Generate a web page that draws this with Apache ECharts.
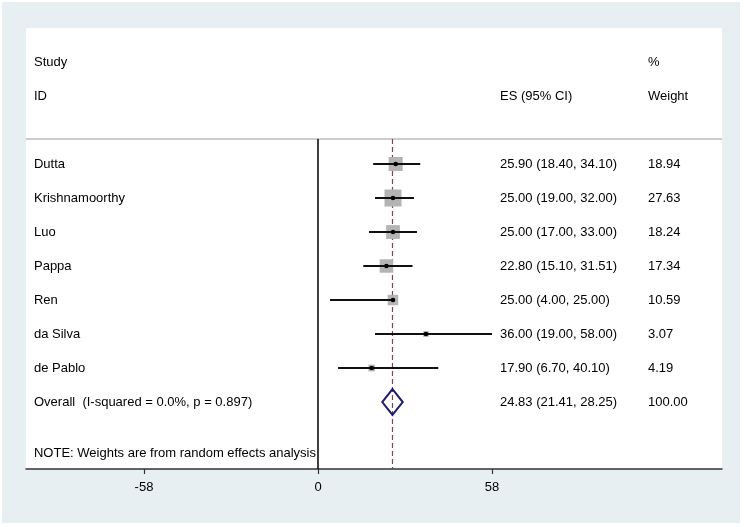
<!DOCTYPE html>
<html>
<head>
<meta charset="utf-8">
<script src="https://cdn.jsdelivr.net/npm/echarts@6/dist/echarts.min.js"></script>
<style>
html,body{margin:0;padding:0;background:#fff;}
#chart{width:744px;height:527px;}
</style>
</head>
<body>
<div id="chart"></div>
<script>
// ---- data ----
const studies = ['Dutta', 'Krishnamoorthy', 'Luo', 'Pappa', 'Ren', 'da Silva', 'de Pablo'];
const es = [25.90, 25.00, 25.00, 22.80, 25.00, 36.00, 17.90];
const ciLow = [18.40, 19.00, 17.00, 15.10, 4.00, 19.00, 6.70];
const ciHigh = [34.10, 32.00, 33.00, 31.51, 25.00, 58.00, 40.10];
const weights = [18.94, 27.63, 18.24, 17.34, 10.59, 3.07, 4.19];
const overallLabel = 'Overall  (I-squared = 0.0%, p = 0.897)';
const overallES = 24.83;
const overallLow = 21.41;
const overallHigh = 28.25;
const overallWeight = 100.00;
const xTicks = [-58, 0, 58];
const headerStudy = ['Study', 'ID'];
const headerES = ['', 'ES (95% CI)'];
const headerWeight = ['%', 'Weight'];
const noteText = 'NOTE: Weights are from random effects analysis';

// ---- layout (not data) ----
const X_MIN = -97.33, X_MAX = 134.67;
const Y_MIN = -3, Y_MAX = 9.97;
const COL_STUDY = -94.67, COL_ES = 60.67, COL_W = 110;
const HEADER_ROWS = [-2, -1];
const LINE_ROW = 0.265;
const OVERALL_ROW = studies.length + 1;
const NOTE_ROW = 9.5;
const FONT = '13px "Liberation Sans", Arial, Helvetica, sans-serif';

const f2 = v => v.toFixed(2);
const esText = es.map((v, i) => `${f2(v)} (${f2(ciLow[i])}, ${f2(ciHigh[i])})`);
const wText = weights.map(f2);

// text rows: [row, study text, es text, weight text]
const textRows = [];
HEADER_ROWS.forEach((r, i) => textRows.push([r, headerStudy[i], headerES[i], headerWeight[i]]));
studies.forEach((s, i) => textRows.push([i + 1, s, esText[i], wText[i]]));
textRows.push([OVERALL_ROW, overallLabel,
  `${f2(overallES)} (${f2(overallLow)}, ${f2(overallHigh)})`, f2(overallWeight)]);
textRows.push([NOTE_ROW, noteText, '', '']);

const studyData = studies.map((s, i) => [i + 1, es[i], ciLow[i], ciHigh[i], weights[i]]);

const chart = echarts.init(document.getElementById('chart'));
chart.setOption({
  backgroundColor: '#ffffff',
  animation: false,
  graphic: {
    elements: [{
      type: 'rect', z: -100, silent: true,
      shape: { x: 2, y: 2, width: 738, height: 521 },
      style: { fill: '#e8eff2' }
    }]
  },
  grid: {
    left: 26, right: 22, top: 28, bottom: 58,
    show: true, backgroundColor: '#ffffff', borderWidth: 0
  },
  xAxis: {
    type: 'value', min: X_MIN, max: X_MAX,
    splitLine: { show: false },
    axisLine: { show: true, onZero: false, lineStyle: { color: '#333', width: 1.5 } },
    axisTick: { show: true, customValues: xTicks, length: 5, lineStyle: { color: '#333', width: 1.2 } },
    axisLabel: { customValues: xTicks, color: '#000', fontSize: 13,
      fontFamily: '"Liberation Sans", Arial, sans-serif', margin: 12 }
  },
  yAxis: {
    type: 'value', min: Y_MIN, max: Y_MAX, inverse: true, show: false,
    splitLine: { show: false }
  },
  series: [
    { // header separator line
      type: 'line', silent: true, symbol: 'none',
      data: [[X_MIN, LINE_ROW], [X_MAX, LINE_ROW]],
      lineStyle: { color: '#cccccc', width: 2 }, z: 1
    },
    { // null line
      type: 'line', silent: true, symbol: 'none',
      data: [[0, LINE_ROW], [0, Y_MAX]],
      lineStyle: { color: '#000', width: 1.5 }, z: 2
    },
    { // overall dashed line
      type: 'line', silent: true, symbol: 'none',
      data: [[overallES, LINE_ROW], [overallES, Y_MAX]],
      lineStyle: { color: '#8a3b4f', width: 1.2, type: [5, 3] }, z: 3
    },
    { // studies
      type: 'custom', silent: true, z: 4,
      data: studyData,
      encode: { x: [1, 2, 3], y: 0 },
      renderItem: function (params, api) {
        const r = api.value(0), e = api.value(1), lo = api.value(2), hi = api.value(3), w = api.value(4);
        const pL = api.coord([lo, r]), pH = api.coord([hi, r]), pE = api.coord([e, r]);
        const s = 3.23 * Math.sqrt(w);
        return {
          type: 'group', children: [
            { type: 'rect', shape: { x: pE[0] - s / 2, y: pE[1] - s / 2, width: s, height: s }, style: { fill: '#b4b4b4' } },
            { type: 'line', shape: { x1: pL[0], y1: pL[1], x2: pH[0], y2: pH[1] }, style: { stroke: '#111', lineWidth: 2 } },
            { type: 'circle', shape: { cx: pE[0], cy: pE[1], r: 2.3 }, style: { fill: '#000' } }
          ]
        };
      }
    },
    { // overall diamond
      type: 'custom', silent: true, z: 5,
      data: [[OVERALL_ROW, overallES, overallLow, overallHigh]],
      encode: { x: [1, 2, 3], y: 0 },
      renderItem: function (params, api) {
        const r = api.value(0), e = api.value(1), lo = api.value(2), hi = api.value(3);
        const h = 0.38;
        const pts = [api.coord([lo, r]), api.coord([e, r - h]), api.coord([hi, r]), api.coord([e, r + h])];
        return { type: 'polygon', shape: { points: pts }, style: { fill: 'none', stroke: '#1c1c6e', lineWidth: 2 } };
      }
    },
    { // text columns
      type: 'custom', silent: true, z: 6,
      data: textRows.map(t => [t[0]]),
      encode: { y: 0 },
      clip: false,
      renderItem: function (params, api) {
        const row = textRows[params.dataIndex];
        const r = row[0];
        const mk = (col, txt) => {
          const p = api.coord([col, r]);
          return { type: 'text', style: { text: txt, x: p[0], y: p[1], fill: '#000', font: FONT, verticalAlign: 'middle', align: 'left' } };
        };
        return { type: 'group', children: [mk(COL_STUDY, row[1]), mk(COL_ES, row[2]), mk(COL_W, row[3])] };
      }
    }
  ]
});
</script>
</body>
</html>
